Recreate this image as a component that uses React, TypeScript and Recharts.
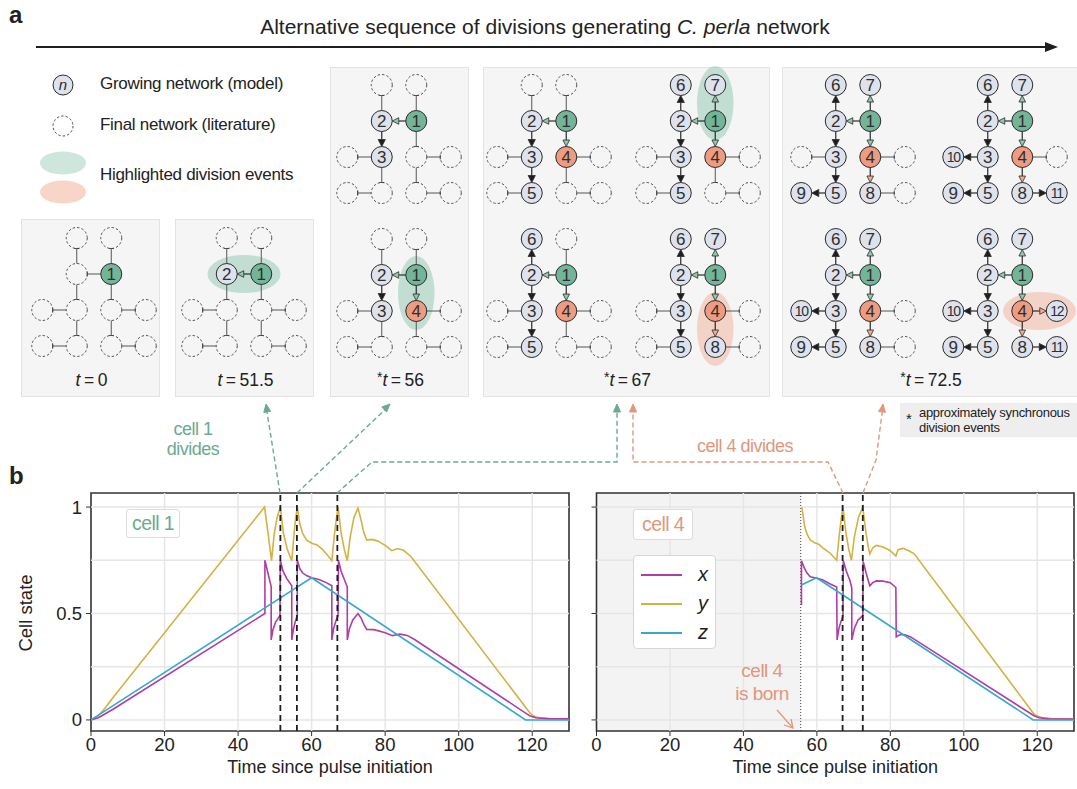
import React from 'react';
import {
  LineChart,
  Line,
  XAxis,
  YAxis,
  ReferenceLine,
  ReferenceArea,
  ScatterChart,
  Scatter,
} from 'recharts';

// ---------- panel b : cell state traces, [time, value] ----------
const cell1X: [number, number][] = [
  [0, 0], [2, 0.01], [4, 0.03], [6, 0.05], [47.3, 0.5], [47.3, 0.75], [49, 0.626], [49, 0.376],
  [49.5, 0.425], [50.2, 0.46], [51.4, 0.49], [51.5, 0.75], [52.2, 0.7], [53.2, 0.665], [54.6, 0.63],
  [54.6, 0.376], [55.1, 0.43], [55.6, 0.465], [56.1, 0.49], [56.1, 0.75], [56.8, 0.71], [57.6, 0.69],
  [58.6, 0.678], [60, 0.668], [62, 0.66], [64, 0.645], [65.5, 0.63], [65.5, 0.376], [66, 0.43],
  [66.6, 0.465], [67.2, 0.49], [67.3, 0.75], [68, 0.7], [69, 0.655], [69.7, 0.625], [69.7, 0.376],
  [70.3, 0.43], [71.2, 0.47], [72.6, 0.5], [73.4, 0.48], [74.3, 0.445], [75, 0.425], [77, 0.424],
  [80, 0.41], [82, 0.396], [84, 0.403], [86, 0.397], [88, 0.378], [118.4, 0.03], [119.5, 0.018],
  [121, 0.01], [124, 0.006], [130, 0.005],
];
const cell1Y: [number, number][] = [
  [0, 0], [2, 0.02], [4, 0.06], [6, 0.105], [47.2, 1], [48.2, 0.87], [49.1, 0.748], [49.8, 0.87],
  [50.6, 0.95], [51.5, 1], [52.3, 0.88], [53.4, 0.8], [54.6, 0.748], [55.2, 0.87], [55.6, 0.94],
  [56.1, 1], [56.8, 0.92], [57.6, 0.875], [58.6, 0.845], [60, 0.83], [61.5, 0.822], [63, 0.8],
  [64.5, 0.77], [65.5, 0.748], [66.2, 0.87], [66.7, 0.94], [67.2, 1], [68, 0.88], [68.9, 0.8],
  [69.7, 0.748], [70.5, 0.86], [71.5, 0.95], [72.6, 0.995], [73.3, 0.95], [74.2, 0.88], [75, 0.845],
  [76.5, 0.848], [78, 0.84], [80, 0.82], [81.8, 0.795], [83.4, 0.805], [85, 0.797], [87, 0.768],
  [118.4, 0.055], [119.5, 0.03], [120.5, 0.017], [122, 0.009], [125, 0.006], [130, 0.005],
];
const cell1Z: [number, number][] = [[0, 0], [60, 0.668], [118.2, 0], [130, 0]];

const cell4X: [number, number][] = [
  [55.8, 0.54], [55.8, 0.748], [56.6, 0.713], [57.3, 0.69], [58.2, 0.672], [59.8, 0.667], [61.5, 0.658],
  [63.5, 0.64], [65.4, 0.624], [65.5, 0.376], [66, 0.43], [66.6, 0.465], [67.1, 0.485], [67.2, 0.748],
  [68, 0.7], [69, 0.655], [69.5, 0.62], [69.5, 0.376], [70.2, 0.43], [71.2, 0.47], [72.5, 0.49],
  [72.6, 0.745], [73.4, 0.69], [74.4, 0.63], [75.2, 0.645], [76.2, 0.653], [78, 0.652], [80, 0.645],
  [81.5, 0.622], [81.6, 0.39], [82.8, 0.402], [84, 0.4], [85.5, 0.39], [119.1, 0.02], [120.5, 0.01],
  [123, 0.005], [130, 0.004],
];
const cell4Y: [number, number][] = [
  [55.9, 1.0], [56.7, 0.906], [57.4, 0.87], [58.2, 0.845], [59.4, 0.832], [60.5, 0.825], [61.7, 0.807],
  [63.5, 0.785], [65.4, 0.75], [66.1, 0.87], [66.6, 0.94], [67.1, 1], [67.9, 0.88], [68.7, 0.8],
  [69.4, 0.75], [70.2, 0.86], [71.3, 0.95], [72.5, 1], [73.2, 0.9], [73.9, 0.82], [74.4, 0.78],
  [75.3, 0.81], [76.2, 0.82], [78, 0.812], [80, 0.795], [81.5, 0.77], [82.1, 0.8], [83.5, 0.806],
  [85, 0.795], [86.5, 0.78], [119, 0.03], [120, 0.018], [121.5, 0.01], [124, 0.006], [130, 0.005],
];
const cell4Z: [number, number][] = [[55.8, 0.634], [59.9, 0.668], [118.9, 0], [130, 0]];

const cell1Divisions = [51.5, 56, 67];
const cell4Divisions = [67, 72.5];
const cell4Birth = 55.6;

const xTicks = [0, 20, 40, 60, 80, 100, 120];
const yTicks = [0, 0.5, 1];
const yGrid = [0, 0.25, 0.5, 0.75, 1];

// ---------- panel a : network ----------
// grid slot of each cell (column 0-3, row 0-3 from top), indexed by cell id - 1
const cellIds = [1, 2, 3, 4, 5, 6, 7, 8, 9, 10, 11, 12];
const cellCol = [2, 1, 1, 2, 1, 1, 2, 2, 0, 0, 3, 3];
const cellRow = [1, 1, 2, 2, 3, 0, 0, 3, 3, 2, 3, 2];
// lineage: [parent, daughter]
const lineage: [number, number][] = [
  [1, 2], [2, 3], [1, 4], [3, 5], [2, 6], [1, 7], [4, 8], [5, 9], [3, 10], [8, 11], [4, 12],
];
// each snapshot shows cells 1..n
const snapshotCells = [1, 2, 3, 4, 5, 6, 7, 8, 9, 10, 11, 12];
// snapshots where the newest division is highlighted
const highlighted = [2, 4, 7, 8, 12];
const panelTimes = ['0', '51.5', '56', '67', '72.5'];
const panelSync = [false, false, true, true, true];

const FONT = '"Liberation Sans", Arial, Helvetica, sans-serif';
const INK = '#222';
const GOLD = '#d4b142';
const MAGENTA = '#b03ca8';
const CYAN = '#35a9cd';
const GREEN = '#73b598';
const GREEN_TXT = '#6aab90';
const ORANGE = '#ee9c81';
const ORANGE_TXT = '#e1977c';
const NODE_GREY = '#dde2ec';
const NODE_R = 10.5;

const toRows = (pts: [number, number][]) => pts.map(([t, v]) => ({ t, v }));
const colOf = (id: number) => cellCol[id - 1];
const rowOf = (id: number) => cellRow[id - 1];
const parentOf = (id: number) => (lineage.find((e) => e[1] === id) || [0])[0];

function edgeKind(parent: number, child: number, n: number) {
  if (child > n) return 'plain';
  if (parent === 1) return 'green';
  if (parent === 4) return 'orange';
  return 'black';
}

function renderEdge(p: any, kind: string) {
  const { x1, y1, x2, y2 } = p;
  if (x1 == null) return <g />;
  const dx = x2 - x1;
  const dy = y2 - y1;
  const L = Math.hypot(dx, dy) || 1;
  const ux = dx / L, uy = dy / L, px = -uy, py = ux;
  const sx = x1 + ux * NODE_R, sy = y1 + uy * NODE_R;
  const ex = x2 - ux * NODE_R, ey = y2 - uy * NODE_R;
  if (kind === 'plain') {
    return (
      <g>
        <line x1={sx} y1={sy} x2={ex} y2={ey} stroke="#555" strokeWidth={1} />
        <line x1={ex + px * 2.5} y1={ey + py * 2.5} x2={ex - px * 2.5} y2={ey - py * 2.5} stroke="#555" strokeWidth={1} />
      </g>
    );
  }
  const hl = kind === 'black' ? 7 : 6.5;
  const hw = kind === 'black' ? 3.6 : 3.3;
  const bx = ex - ux * hl, by = ey - uy * hl;
  const head = `M${ex},${ey} L${bx + px * hw},${by + py * hw} L${bx - px * hw},${by - py * hw} Z`;
  const fill = kind === 'black' ? '#1e1e1e' : kind === 'green' ? '#8fcab0' : '#f4ab93';
  return (
    <g>
      <line x1={sx} y1={sy} x2={bx} y2={by} stroke="#2a2a2a" strokeWidth={1.2} />
      <path d={head} fill={fill} stroke="#2a2a2a" strokeWidth={0.8} strokeLinejoin="round" />
    </g>
  );
}

function NodeDot(p: any) {
  const { cx, cy, payload } = p;
  if (cx == null || !payload) return <g />;
  if (!payload.born) {
    return <circle cx={cx} cy={cy} r={NODE_R} fill="none" stroke="#3a3a3a" strokeWidth={0.9} strokeDasharray="2.4 2.1" />;
  }
  const fill = payload.id === 1 ? GREEN : payload.id === 4 ? ORANGE : NODE_GREY;
  return (
    <g>
      <circle cx={cx} cy={cy} r={NODE_R} fill={fill} stroke="#2a2a2a" strokeWidth={1} />
      <text
        x={cx}
        y={cy}
        dy="0.36em"
        textAnchor="middle"
        fontSize={payload.id >= 10 ? 14 : 17}
        letterSpacing={payload.id >= 10 ? -1.2 : 0}
        fill="#2f2f2f"
        fontFamily={FONT}
      >
        {payload.id}
      </text>
    </g>
  );
}

function Network({ n, left, top }: { n: number; left: number; top: number }) {
  const nodes = cellIds.map((id) => ({ id, c: colOf(id), r: rowOf(id), born: id <= n }));
  let ellipse = null;
  if (highlighted.includes(n)) {
    const par = parentOf(n);
    const mc = (colOf(par) + colOf(n)) / 2;
    const mr = (rowOf(par) + rowOf(n)) / 2;
    const horizontal = rowOf(par) === rowOf(n);
    const ac = horizontal ? 1.06 : 0.53;
    const ar = horizontal ? 0.53 : 1.03;
    const fill = par === 1 ? '#7dbfa2' : '#f0a48a';
    ellipse = (
      <ReferenceArea
        x1={mc - ac}
        x2={mc + ac}
        y1={mr - ar}
        y2={mr + ar}
        ifOverflow="visible"
        shape={(p: any) => (
          <ellipse cx={p.x + p.width / 2} cy={p.y + p.height / 2} rx={Math.abs(p.width) / 2} ry={Math.abs(p.height) / 2} fill={fill} fillOpacity={0.42} />
        )}
      />
    );
  }
  return (
    <div style={{ position: 'absolute', left: left - 6, top: top - 6 }}>
      <ScatterChart width={150} height={156} margin={{ top: 6, right: 6, bottom: 6, left: 6 }}>
        <XAxis type="number" dataKey="c" domain={[-0.5, 3.5]} hide />
        <YAxis type="number" dataKey="r" domain={[-0.5, 3.5]} reversed hide />
        {ellipse}
        {lineage.map(([a, b]) => (
          <ReferenceLine
            key={`${a}-${b}`}
            segment={[{ x: colOf(a), y: rowOf(a) }, { x: colOf(b), y: rowOf(b) }]}
            ifOverflow="visible"
            shape={(p: any) => renderEdge(p, edgeKind(a, b, n))}
          />
        ))}
        <Scatter data={nodes} shape={NodeDot} isAnimationActive={false} />
      </ScatterChart>
    </div>
  );
}

// layout of the twelve snapshots and five grey panels
const snapPos = [
  [24.5, 220], [175.25, 220], [329.5, 67], [329.5, 221], [479.5, 67], [479.5, 221],
  [628.5, 67], [628.5, 221], [783.5, 67], [783.5, 221], [935.5, 67], [935.5, 221],
];
const panelBox = [
  [21, 219, 139, 178], [175, 219, 139, 178], [330, 67, 139, 330], [483, 67, 287, 330], [782, 67, 296, 330],
];

function CellChart({
  x, y, z, divisions, birth, left, width, marginLeft, yWidth, showY,
}: any) {
  const axisFont = { fontSize: 18.5, fill: INK, fontFamily: FONT };
  return (
    <div style={{ position: 'absolute', left, top: 480 }}>
      <LineChart width={width} height={309} margin={{ top: 13, right: 3, bottom: 28, left: marginLeft }}>
        <XAxis
          type="number"
          dataKey="t"
          domain={[0, 130]}
          ticks={xTicks}
          allowDataOverflow
          height={30}
          axisLine={false}
          tickLine={{ stroke: '#333' }}
          tickSize={5}
          tickMargin={2}
          tick={axisFont}
          label={{ value: 'Time since pulse initiation', position: 'bottom', offset: -1, fontSize: 18, fill: INK, fontFamily: FONT }}
        />
        <YAxis
          type="number"
          domain={[-0.052, 1.066]}
          ticks={yTicks}
          allowDataOverflow
          width={yWidth}
          axisLine={false}
          tickLine={{ stroke: '#333' }}
          tickSize={5}
          tickMargin={4}
          tick={axisFont}
          tickFormatter={(v: number) => (showY ? String(v) : '')}
        />
        {birth != null && (
          <ReferenceArea x1={0} x2={birth} fill="#f3f3f3" fillOpacity={1} stroke="none" ifOverflow="visible" />
        )}
        {yGrid.map((g) => (
          <ReferenceLine key={`y${g}`} y={g} stroke="#e6e6e6" strokeWidth={1.5} />
        ))}
        {xTicks.slice(1).map((g) => (
          <ReferenceLine key={`x${g}`} x={g} stroke="#e6e6e6" strokeWidth={1.5} />
        ))}
        {birth != null && (
          <ReferenceLine x={birth} stroke="#444" strokeWidth={1} strokeDasharray="1 2" />
        )}
        <Line data={toRows(y)} dataKey="v" name="y" type="linear" stroke={GOLD} strokeWidth={1.6} dot={false} isAnimationActive={false} />
        <Line data={toRows(x)} dataKey="v" name="x" type="linear" stroke={MAGENTA} strokeWidth={1.6} dot={false} isAnimationActive={false} />
        <Line data={toRows(z)} dataKey="v" name="z" type="linear" stroke={CYAN} strokeWidth={1.6} dot={false} isAnimationActive={false} />
        {divisions.map((d: number) => (
          <ReferenceLine key={`d${d}`} x={d} stroke="#1e1e1e" strokeWidth={1.8} strokeDasharray="6 4" />
        ))}
        <ReferenceArea x1={0} x2={130} y1={-0.052} y2={1.066} fill="none" stroke="#333" strokeWidth={1.6} ifOverflow="visible" />
      </LineChart>
    </div>
  );
}

function Arrow({ d, color, tip, from }: any) {
  const [tx, ty] = tip;
  const [fx, fy] = from;
  const L = Math.hypot(tx - fx, ty - fy);
  const ux = (tx - fx) / L, uy = (ty - fy) / L;
  const px = -uy, py = ux;
  const b = [tx - ux * 8, ty - uy * 8];
  return (
    <g>
      <path d={d} fill="none" stroke={color} strokeWidth={1.4} strokeDasharray="5 3" />
      <path d={`M${b[0] + px * 3.5},${b[1] + py * 3.5} L${tx},${ty} L${b[0] - px * 3.5},${b[1] - py * 3.5} Z`} fill={color} stroke={color} strokeWidth={1} />
    </g>
  );
}

export default function App() {
  const abs = (l: number, t: number, extra: any = {}) => ({ position: 'absolute' as const, left: l, top: t, ...extra });
  const legendText = { fontSize: 17, letterSpacing: -0.3, whiteSpace: 'nowrap' as const };
  return (
    <div style={{ position: 'absolute', left: 0, top: 0, width: 1077, height: 789, overflow: 'hidden', background: '#fff', fontFamily: FONT, color: INK }}>
      <div style={abs(9, 1, { fontSize: 24, fontWeight: 700 })}>a</div>
      <div style={abs(9, 462, { fontSize: 24, fontWeight: 700 })}>b</div>
      <div style={abs(145, 15, { width: 800, textAlign: 'center', fontSize: 21, whiteSpace: 'nowrap' })}>
        Alternative sequence of divisions generating <i>C. perla</i> network
      </div>

      {/* legend of panel a */}
      <div style={abs(100, 74, legendText)}>Growing network (model)</div>
      <div style={abs(100, 115, legendText)}>Final network (literature)</div>
      <div style={abs(100, 165, legendText)}>Highlighted division events</div>

      {panelBox.map(([l, t, w, h], i) => (
        <div key={i} style={abs(l, t, { width: w, height: h, background: '#f5f5f5', border: '1px solid #e3e3e3', boxSizing: 'border-box' })}>
          <div style={{ position: 'absolute', left: 0, width: w, top: h - 28, textAlign: 'center', fontSize: 17.5, whiteSpace: 'nowrap' }}>
            {panelSync[i] && <span style={{ fontSize: 14, position: 'relative', top: -4 }}>*</span>}
            <i>t</i>{'\u2009=\u2009'}{panelTimes[i]}
          </div>
        </div>
      ))}
      {snapshotCells.map((n, i) => (
        <Network key={n} n={n} left={snapPos[i][0]} top={snapPos[i][1]} />
      ))}

      <div style={abs(900, 403, { width: 177, height: 34, background: '#eeeeee', fontSize: 13, lineHeight: '15px', letterSpacing: -0.3 })}>
        <span style={{ position: 'absolute', left: 6, top: 8, fontSize: 15 }}>*</span>
        <div style={{ position: 'absolute', left: 19, top: 2, whiteSpace: 'nowrap' }}>approximately synchronous<br />division events</div>
      </div>

      <CellChart x={cell1X} y={cell1Y} z={cell1Z} divisions={cell1Divisions} left={0} width={572} marginLeft={10} yWidth={81} showY />
      <CellChart x={cell4X} y={cell4Y} z={cell4Z} divisions={cell4Divisions} birth={cell4Birth} left={580} width={497} marginLeft={0} yWidth={16.5} showY={false} />

      <div style={abs(26, 613, { width: 0, height: 0 })}>
        <div style={{ position: 'absolute', left: -50, top: -11, width: 100, textAlign: 'center', fontSize: 18.5, transform: 'rotate(-90deg)', whiteSpace: 'nowrap' }}>Cell state</div>
      </div>

      <div style={abs(126, 509, { padding: '2px 5px', border: '1.5px solid #dcdcdc', borderRadius: 3, background: '#fff', color: GREEN_TXT, fontSize: 19.5, letterSpacing: -0.6 })}>cell 1</div>
      <div style={abs(633, 509, { padding: '3px 8px', border: '1.5px solid #dcdcdc', borderRadius: 3, background: '#fff', color: ORANGE_TXT, fontSize: 19.5, letterSpacing: -0.6 })}>cell 4</div>

      {/* legend of panel b */}
      <div style={abs(633, 555, { width: 83, height: 94, border: '1.5px solid #d6d6d6', borderRadius: 4, background: '#fff', boxSizing: 'border-box' })}>
        {[['x', MAGENTA], ['y', GOLD], ['z', CYAN]].map(([k, c], i) => (
          <div key={k} style={{ position: 'absolute', left: 7, top: 8 + i * 29, width: 70, height: 22 }}>
            <div style={{ position: 'absolute', left: 0, top: 10, width: 41, height: 2, background: c }} />
            <i style={{ position: 'absolute', left: 57, top: -1, fontSize: 20 }}>{k}</i>
          </div>
        ))}
      </div>

      <div style={abs(722, 659, { width: 80, textAlign: 'center', color: ORANGE_TXT, fontSize: 19, lineHeight: '23px', letterSpacing: -0.5 })}>cell 4<br />is born</div>
      <div style={abs(150, 419, { width: 86, textAlign: 'center', color: GREEN_TXT, fontSize: 18, lineHeight: '20px', letterSpacing: -0.5 })}>cell 1<br />divides</div>
      <div style={abs(685, 436, { width: 120, textAlign: 'center', color: ORANGE_TXT, fontSize: 18, letterSpacing: -0.5, whiteSpace: 'nowrap' })}>cell 4 divides</div>

      <svg width={1077} height={789} style={{ position: 'absolute', left: 0, top: 0, pointerEvents: 'none' }}>
        <line x1={36} y1={47} x2={1048} y2={47} stroke="#1e1e1e" strokeWidth={2} />
        <path d="M1058,47 L1045,42 L1045,52 Z" fill="#1e1e1e" />
        {/* legend symbols */}
        <circle cx={63} cy={85} r={10} fill={NODE_GREY} stroke="#2a2a2a" strokeWidth={1} />
        <text x={63} y={85} dy="0.33em" textAnchor="middle" fontSize={15} fontStyle="italic" fill="#2a2a2a" fontFamily={FONT}>n</text>
        <circle cx={63} cy={126} r={10} fill="none" stroke="#3a3a3a" strokeWidth={0.9} strokeDasharray="2.4 2.1" />
        <ellipse cx={63} cy={163} rx={23} ry={11.5} fill="#cfe6dc" />
        <ellipse cx={63} cy={192} rx={23} ry={11.5} fill="#f7d5c9" />
        {/* connectors between panels */}
        <Arrow d="M280,493 L266,406" tip={[266, 404]} from={[280, 493]} color={GREEN_TXT} />
        <Arrow d="M297,493 L389,406" tip={[390, 404]} from={[297, 493]} color={GREEN_TXT} />
        <Arrow d="M337,493 L372,462 L617,462 L617,406" tip={[617, 404]} from={[617, 462]} color={GREEN_TXT} />
        <Arrow d="M843,493 L828,462 L633,462 L633,406" tip={[633, 404]} from={[633, 462]} color={ORANGE_TXT} />
        <Arrow d="M863,493 L876,460 L883,406" tip={[883, 404]} from={[876, 460]} color={ORANGE_TXT} />
        <path d="M777,710 L792,727" stroke={ORANGE_TXT} strokeWidth={1.3} fill="none" />
        <path d="M784,725 L793,728 L791,719" stroke={ORANGE_TXT} strokeWidth={1.3} fill="none" />
      </svg>
    </div>
  );
}
